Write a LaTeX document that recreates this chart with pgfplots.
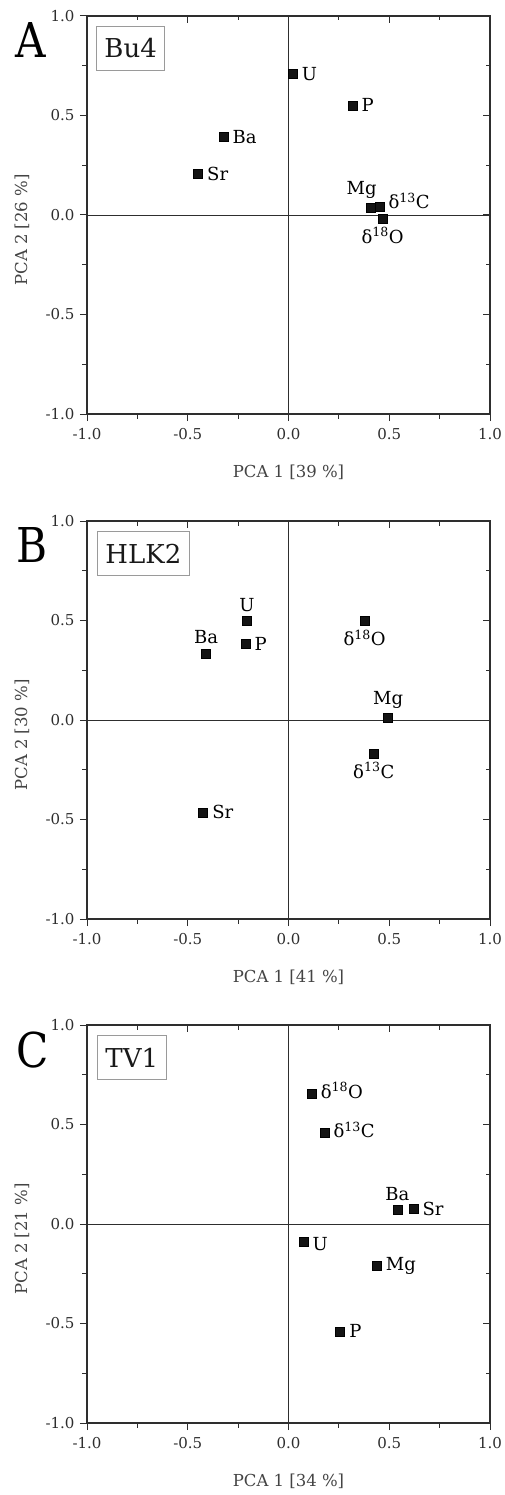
\documentclass[border=0pt]{standalone}
\usepackage{fontspec}
\setmainfont{DejaVu Serif}
\usepackage{pgfplots}
\pgfplotsset{compat=1.18}

\definecolor{axgray}{HTML}{2E2E2E}
\definecolor{labgray}{HTML}{444444}
\definecolor{boxgray}{HTML}{9A9A9A}

\newcommand{\dC}{δ\textsuperscript{13}C}
\newcommand{\dO}{δ\textsuperscript{18}O}

\pgfplotsset{
  pcabase/.style={
    scale only axis, width=403pt, height=398pt,
    xmin=-1, xmax=1, ymin=-1, ymax=1,
    anchor=south west, clip=false,
    xtick={-1,-0.5,...,1}, ytick={-1,-0.5,...,1},
    minor tick num=1,
    major tick length=7pt, minor tick length=4.5pt,
    every tick/.style={axgray, line width=1pt},
  },
  pca/.style={
    pcabase,
    axis line style={axgray, line width=1.2pt},
    tick align=outside, xtick pos=bottom, ytick pos=left,
    tick label style={font=\fontsize{15}{18}\selectfont, text=axgray},
    yticklabel shift=2pt, xticklabel shift=4pt,
    /pgf/number format/.cd, fixed, fixed zerofill, precision=1,
      assume math mode=true, /pgfplots/.cd,
    every axis x label/.style={at={(axis description cs:0.5,-0.1457)},
      anchor=center, font=\fontsize{16.5}{20}\selectfont, text=labgray},
    every axis y label/.style={at={(axis description cs:-0.1613,0.4625)},
      anchor=center, rotate=90, font=\fontsize{16.5}{20}\selectfont, text=labgray},
  },
  mirror/.style={
    pcabase,
    axis line style={draw=none},
    tick align=inside, xtick pos=top, ytick pos=right,
    xticklabels={}, yticklabels={},
  },
  zeroline/.style={axgray, line width=0.9pt, forget plot},
  % loadings with their labels; #1 = side of the label
  loadings/.style={
    only marks, mark=square*, mark size=4.5pt,
    mark options={fill=black!92, draw=none},
    point meta=explicit symbolic,
    nodes near coords,
    every node near coord/.style={anchor=#1,
      inner sep=9pt, font=\fontsize{18}{20}\selectfont, text=black},
  },
  shift/.style 2 args={every node near coord/.append style={xshift=#1pt, yshift=#2pt}},
}

\begin{document}
\begin{tikzpicture}[x=1pt, y=1pt]
  \useasboundingbox (0,0) rectangle (504,-1495);

  % ---------------- A: Bu4
  \begin{axis}[pca, at={(87pt,-414pt)}, xlabel={PCA 1 [39 \%]}, ylabel={PCA 2 [26 \%]}]
    \addplot[zeroline] coordinates {(-1,0) (1,0)};
    \addplot[zeroline] coordinates {(0,-1) (0,1)};
    \addplot[loadings=west] coordinates {
      (0.021,0.709) [U] (0.317,0.551) [P] (-0.323,0.394) [Ba] (-0.449,0.206) [Sr]};
    \addplot[loadings=south, shift={-9}{0}] coordinates {(0.408,0.037) [Mg]};
    \addplot[loadings=west, shift={0}{6}] coordinates {(0.451,0.040) [\dC]};
    \addplot[loadings=north] coordinates {(0.467,-0.017) [\dO]};
  \end{axis}
  \begin{axis}[mirror, at={(87pt,-414pt)}]
  \end{axis}

  % ---------------- B: HLK2
  \begin{axis}[pca, at={(87pt,-919pt)}, xlabel={PCA 1 [41 \%]}, ylabel={PCA 2 [30 \%]}]
    \addplot[zeroline] coordinates {(-1,0) (1,0)};
    \addplot[zeroline] coordinates {(0,-1) (0,1)};
    \addplot[loadings=west] coordinates {
      (-0.214,0.384) [P] (-0.424,-0.464) [Sr]};
    \addplot[loadings=south] coordinates {
      (-0.206,0.498) [U] (-0.409,0.335) [Ba] (0.494,0.013) [Mg]};
    \addplot[loadings=north] coordinates {
      (0.378,0.498) [\dO] (0.423,-0.168) [\dC]};
  \end{axis}
  \begin{axis}[mirror, at={(87pt,-919pt)}]
  \end{axis}

  % ---------------- C: TV1
  \begin{axis}[pca, at={(87pt,-1423pt)}, xlabel={PCA 1 [34 \%]}, ylabel={PCA 2 [21 \%]}]
    \addplot[zeroline] coordinates {(-1,0) (1,0)};
    \addplot[zeroline] coordinates {(0,-1) (0,1)};
    \addplot[loadings=west, shift={0}{3}] coordinates {
      (0.115,0.656) [\dO] (0.178,0.459) [\dC]};
    \addplot[loadings=west] coordinates {
      (0.620,0.075) [Sr] (0.438,-0.211) [Mg] (0.256,-0.539) [P]};
    \addplot[loadings=west, shift={0}{-2}] coordinates {(0.074,-0.090) [U]};
    \addplot[loadings=south] coordinates {(0.540,0.072) [Ba]};
  \end{axis}
  \begin{axis}[mirror, at={(87pt,-1423pt)}]
  \end{axis}

  % panel letters
  \tikzset{letter/.style={anchor=north west, inner sep=0pt, font=\fontsize{48}{50}\selectfont}}
  \node[letter] at (15,-22) {\scalebox{0.88}[1]{A}};
  \node[letter] at (16,-527) {\scalebox{0.88}[1]{B}};
  \node[letter] at (16,-1032) {\scalebox{0.88}[1]{C}};

  % sample name boxes
  \tikzset{samplebox/.style={draw=boxgray, line width=0.9pt, anchor=north west,
    inner xsep=8pt, minimum height=44pt, font=\fontsize{26}{28}\selectfont, text=black!90}}
  \node[samplebox] at (96,-26) {Bu4};
  \node[samplebox] at (97,-531) {HLK2};
  \node[samplebox] at (97,-1035) {TV1};
\end{tikzpicture}
\end{document}
